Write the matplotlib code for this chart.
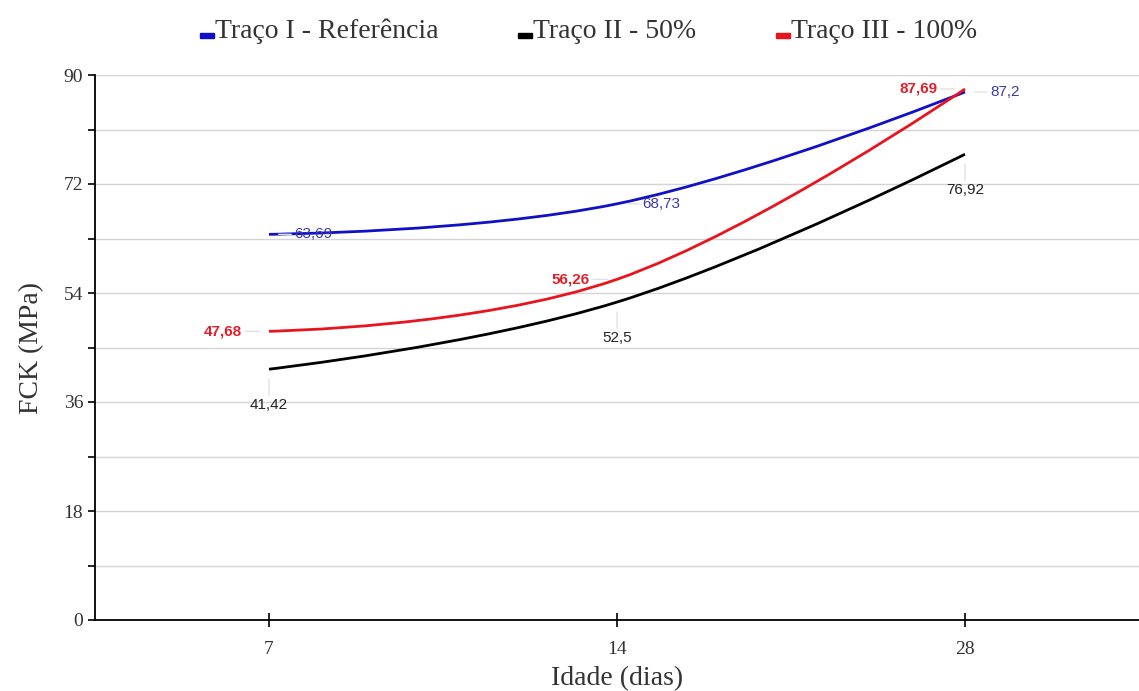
import matplotlib.pyplot as plt
from matplotlib.path import Path
from matplotlib.patches import PathPatch, Rectangle

# ============================
# Data
# ============================
idades = ["7", "14", "28"]
series_names = ["Traço I - Referência", "Traço II - 50%", "Traço III - 100%"]
ref_vals = [63.69, 68.73, 87.2]
t50_vals = [41.42, 52.5, 76.92]
t100_vals = [47.68, 56.26, 87.69]
colors = ["#1010c8", "#000000", "#e8141e"]
label_colors = ["#3a3aa8", "#222222", "#e0202a"]


def spline_path(xs, ys, smoothing=1.5):
    # bezier control points so the curve goes smoothly through every point
    n = len(xs)
    lc = [(xs[i], ys[i]) for i in range(n)]
    rc = [(xs[i], ys[i]) for i in range(n)]
    d = smoothing + 1
    for i in range(1, n - 1):
        lx = (smoothing * xs[i] + xs[i - 1]) / d
        ly = (smoothing * ys[i] + ys[i - 1]) / d
        rx = (smoothing * xs[i] + xs[i + 1]) / d
        ry = (smoothing * ys[i] + ys[i + 1]) / d
        corr = (ry - ly) * (rx - xs[i]) / (rx - lx) + ys[i] - ry
        lc[i] = (lx, ly + corr)
        rc[i] = (rx, ry + corr)
    verts = [(xs[0], ys[0])]
    codes = [Path.MOVETO]
    for i in range(1, n):
        verts += [rc[i - 1], lc[i], (xs[i], ys[i])]
        codes += [Path.CURVE4] * 3
    return Path(verts, codes)


fig = plt.figure(figsize=(11.39, 6.91), dpi=100)
ax = fig.add_axes([95 / 1139, 1 - 620 / 691, 1 - 95 / 1139, (620 - 75) / 691])

xs = list(range(len(idades)))
ax.set_xlim(-0.5, len(idades) - 0.5)
ax.set_ylim(0, 90)

ax.set_yticks(range(0, 91, 18))
ax.set_yticks(range(9, 90, 18), minor=True)
ax.grid(True, which="both", axis="y", color="#d4d4d4", linewidth=1)
ax.set_axisbelow(True)
ax.set_xticks(xs)
ax.set_xticklabels(idades)

for s in ["top", "right"]:
    ax.spines[s].set_visible(False)
for s in ["left", "bottom"]:
    ax.spines[s].set_color("black")
    ax.spines[s].set_linewidth(1.3)

ax.tick_params(axis="y", which="both", direction="out", length=5, width=1.2, color="black")
ax.tick_params(axis="x", direction="inout", length=10, width=1.2, color="black", pad=10)
for lab in ax.get_xticklabels() + ax.get_yticklabels():
    lab.set_fontfamily("Liberation Serif")
    lab.set_fontsize(14)
    lab.set_color("#333333")

ax.set_xlabel("Idade (dias)", family="Liberation Serif", fontsize=20, color="#333333", labelpad=6)
ax.set_ylabel("FCK (MPa)", family="Liberation Serif", fontsize=20, color="#333333", labelpad=14)

# ============================
# Curves + data labels
# ============================
all_vals = [ref_vals, t50_vals, t100_vals]
offsets = [(25, 0, "left", "normal"), (0, -36, "center", "normal"), (-27, 0, "right", "bold")]

for vals, col, lcol, (dx, dy, ha, fw) in zip(all_vals, colors, label_colors, offsets):
    ax.add_patch(PathPatch(spline_path(xs, vals), fill=False, edgecolor=col,
                           linewidth=2, zorder=3, capstyle="butt"))
    for x, v in zip(xs, vals):
        ax.annotate(str(v).replace(".", ","), (x, v), xytext=(dx, dy),
                    textcoords="offset pixels", ha=ha, va="center",
                    fontsize=11, fontweight=fw, color=lcol,
                    family="Liberation Sans", zorder=4,
                    arrowprops=dict(arrowstyle="-", color="#e2e2e2", lw=1,
                                    shrinkA=0, shrinkB=7))

# ============================
# Legend
# ============================
leg_x = [200, 518, 776]
base_y = 1 - 38 / 691
for name, col, lx in zip(series_names, colors, leg_x):
    fig.patches.append(Rectangle((lx / 1139, base_y), 14 / 1139, 5 / 691,
                                 transform=fig.transFigure, color=col))
    fig.text((lx + 15) / 1139, base_y, name, family="Liberation Serif",
             fontsize=20, color="#333333", va="baseline", ha="left")

fig.savefig("out.png", dpi=100)
